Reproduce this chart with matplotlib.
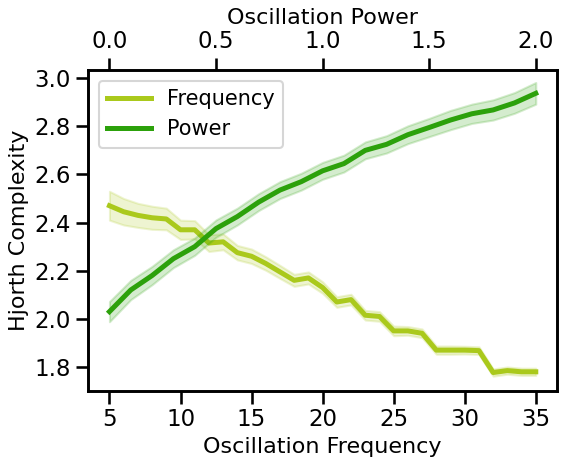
import numpy as np
import matplotlib
matplotlib.use("Agg")
import matplotlib.pyplot as plt
import seaborn as sns

sns.set_context("talk")

freqs = np.arange(5, 36)
freq_vals = [2.47, 2.445, 2.43, 2.42, 2.415, 2.37, 2.37, 2.315, 2.32, 2.275,
             2.26, 2.23, 2.195, 2.16, 2.17, 2.13, 2.07, 2.08, 2.015, 2.01,
             1.95, 1.95, 1.94, 1.87, 1.87, 1.87, 1.868, 1.777, 1.785, 1.78, 1.78]
freq_err = [0.06, 0.055, 0.05, 0.048, 0.045, 0.04, 0.038, 0.035, 0.033, 0.03,
            0.03, 0.028, 0.027, 0.025, 0.025, 0.024, 0.022, 0.022, 0.02, 0.02,
            0.02, 0.018, 0.018, 0.017, 0.017, 0.016, 0.016, 0.015, 0.015, 0.015, 0.015]

powers = np.round(np.arange(0, 2.01, 0.1), 1)
pow_vals = [2.03, 2.12, 2.18, 2.25, 2.30, 2.375, 2.425, 2.485, 2.535, 2.57,
            2.615, 2.645, 2.70, 2.725, 2.765, 2.795, 2.826, 2.852, 2.868, 2.897, 2.937]
pow_err = [0.042, 0.04, 0.038, 0.037, 0.036, 0.036, 0.035, 0.035, 0.035, 0.035,
           0.035, 0.035, 0.035, 0.036, 0.037, 0.038, 0.04, 0.04, 0.042, 0.043, 0.045]

c_freq = "#aac91c"
c_pow = "#2ca10b"

fig, ax = plt.subplots(figsize=(5.65, 4.65), dpi=100)
fig.subplots_adjust(left=0.156, right=0.986, bottom=0.159, top=0.849)
ax2 = ax.twiny()

fv = np.array(freq_vals); fe = np.array(freq_err)
ax.fill_between(freqs, fv - fe, fv + fe, color=c_freq, alpha=0.2)
l1, = ax.plot(freqs, fv, color=c_freq, lw=3.6, label="Frequency")

pv = np.array(pow_vals); pe = np.array(pow_err)
ax2.fill_between(powers, pv - pe, pv + pe, color=c_pow, alpha=0.2)
l2, = ax2.plot(powers, pv, color=c_pow, lw=3.6, label="Power")

ax.set_xlabel("Oscillation Frequency", fontsize=16)
ax.set_ylabel("Hjorth Complexity", fontsize=16)
ax2.set_xlabel("Oscillation Power", fontsize=16)
ax.set_xticks([5, 10, 15, 20, 25, 30, 35])
ax2.set_xticks([0.0, 0.5, 1.0, 1.5, 2.0])
ax.set_yticks([1.8, 2.0, 2.2, 2.4, 2.6, 2.8, 3.0])
ax.set_ylim(1.70, 3.033)
ax2.set_ylim(1.70, 3.033)
ax.set_xlim(3.5, 36.5)
ax2.set_xlim(-0.1, 2.1)

ax.legend(handles=[l1, l2], loc="upper left", fontsize=15, handlelength=2.1)

fig.savefig("out.png", dpi=100)
